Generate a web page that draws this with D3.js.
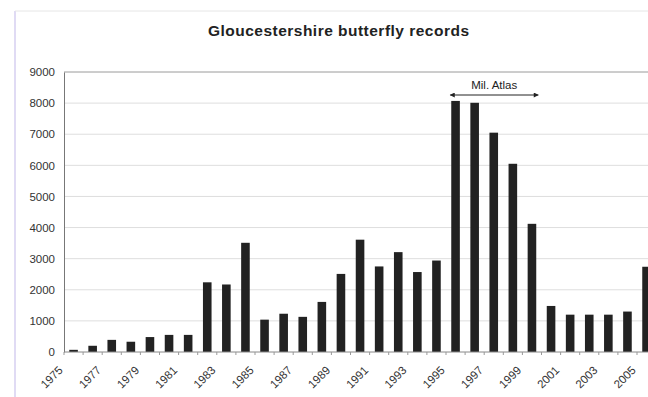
<!DOCTYPE html>
<html>
<head>
<meta charset="utf-8">
<script src="https://cdn.jsdelivr.net/npm/d3@7.9.0/dist/d3.min.js"></script>
<style>
  body { margin: 0; background: #fff; }
  svg { display: block; font-family: "Liberation Sans", Arial, sans-serif; }
</style>
</head>
<body>
<svg width="648" height="397"></svg>
<script>
// data
const years = d3.range(1975, 2006).map(String);
const records = [70, 200, 390, 330, 480, 550, 550, 2240, 2170, 3510,
  1040, 1230, 1130, 1610, 2510, 3610, 2750, 3210, 2570, 2940,
  8070, 8010, 7050, 6050, 4120, 1480, 1200, 1200, 1200, 1300, 2740];
const yTicks = [0, 1000, 2000, 3000, 4000, 5000, 6000, 7000, 8000, 9000];
const xLabels = years.filter((d, i) => i % 2 === 0);
const atlasYears = ['1995', '1999'];
const atlasLabel = 'Mil. Atlas';
const title = 'Gloucestershire butterfly records';

const svg = d3.select('svg');
const plotLeft = 64, plotTop = 72, plotBottom = 352, step = 19.1;

const x = d3.scaleBand()
  .domain(years)
  .range([plotLeft, plotLeft + step * years.length])
  .paddingInner(0.55)
  .paddingOuter(0.275);

const y = d3.scaleLinear().domain([0, 9000]).range([plotBottom, plotTop]);

// outer frame of the scanned page
svg.append('line')
  .attr('x1', 15).attr('x2', 15).attr('y1', 11).attr('y2', 397)
  .attr('stroke', '#d6cff0').attr('stroke-width', 1.5);
svg.append('line')
  .attr('x1', 15).attr('x2', 648).attr('y1', 11).attr('y2', 11)
  .attr('stroke', '#e6e6e6').attr('stroke-width', 1);

svg.append('text')
  .attr('x', 338.5).attr('y', 36)
  .attr('text-anchor', 'middle')
  .attr('font-size', 15.5).attr('font-weight', 'bold')
  .attr('textLength', 261).attr('lengthAdjust', 'spacing')
  .attr('fill', '#222')
  .text(title);

// gridlines
svg.append('g')
  .selectAll('line')
  .data(yTicks.filter(d => d > 0))
  .join('line')
  .attr('x1', plotLeft).attr('x2', 648)
  .attr('y1', d => y(d)).attr('y2', d => y(d))
  .attr('stroke', d => d === 9000 ? '#9a9a9a' : '#dedede')
  .attr('stroke-width', 1);

// y axis
const yAxis = svg.append('g')
  .attr('transform', `translate(${plotLeft},0)`)
  .call(d3.axisLeft(y).tickValues(yTicks).tickFormat(d3.format('d')).tickSize(0).tickPadding(9));
yAxis.select('.domain').attr('stroke', '#777');
yAxis.selectAll('text').attr('font-size', 11.5).attr('fill', '#333')
  .attr('font-family', '"Liberation Sans", Arial, sans-serif');

// bars
svg.append('g')
  .selectAll('rect')
  .data(records)
  .join('rect')
  .attr('x', (d, i) => x(years[i]))
  .attr('width', x.bandwidth())
  .attr('y', d => y(d))
  .attr('height', d => plotBottom - y(d))
  .attr('fill', '#222');

// x axis, ticks sit between categories
const gap = (x.step() - x.bandwidth()) / 2;
const xAxis = svg.append('g');
xAxis.append('line')
  .attr('x1', plotLeft).attr('x2', 648)
  .attr('y1', plotBottom).attr('y2', plotBottom)
  .attr('stroke', '#888');
xAxis.selectAll('line.tick')
  .data(years)
  .join('line')
  .attr('class', 'tick')
  .attr('x1', d => x(d) - gap)
  .attr('x2', d => x(d) - gap)
  .attr('y1', plotBottom).attr('y2', plotBottom + 3)
  .attr('stroke', '#999');
xAxis.selectAll('text')
  .data(xLabels)
  .join('text')
  .attr('transform', d => `translate(${x(d) + x.bandwidth() / 2 - 10},${plotBottom + 19}) rotate(-45)`)
  .attr('text-anchor', 'end')
  .attr('font-size', 11.5)
  .attr('fill', '#333')
  .text(d => d);

// Millennium Atlas span
const ax1 = x(atlasYears[0]) - 1;
const ax2 = x(atlasYears[1]) + x.bandwidth() + 2;
const ay = 95;
svg.append('defs').append('marker')
  .attr('id', 'head').attr('viewBox', '0 0 10 10')
  .attr('refX', 9).attr('refY', 5)
  .attr('markerWidth', 7).attr('markerHeight', 5)
  .attr('orient', 'auto-start-reverse')
  .append('path').attr('d', 'M0,0L10,5L0,10z').attr('fill', '#222');
svg.append('line')
  .attr('x1', ax1).attr('x2', ax2).attr('y1', ay).attr('y2', ay)
  .attr('stroke', '#222').attr('stroke-width', 1)
  .attr('marker-start', 'url(#head)').attr('marker-end', 'url(#head)');
svg.append('text')
  .attr('x', (ax1 + ax2) / 2).attr('y', ay - 6)
  .attr('text-anchor', 'middle')
  .attr('font-size', 11.5).attr('fill', '#222')
  .text(atlasLabel);
</script>
</body>
</html>
